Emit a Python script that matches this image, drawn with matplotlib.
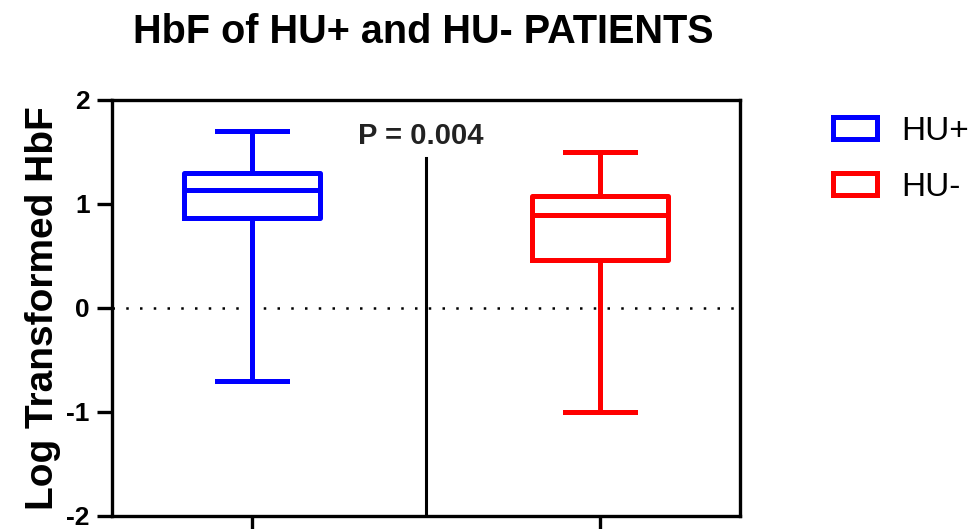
import matplotlib
matplotlib.use("Agg")
import matplotlib.pyplot as plt
from matplotlib.patches import Patch

plt.rcParams['font.family'] = ['Liberation Sans', 'DejaVu Sans']

groups = ["HU+", "HU-"]
colors = ["#0000ff", "#ff0000"]
whislo = [-0.70, -1.00]
q1 = [0.87, 0.46]
med = [1.13, 0.89]
q3 = [1.30, 1.08]
whishi = [1.70, 1.50]
p_text = "P = 0.004"
title = "HbF of HU+ and HU- PATIENTS"
ylabel = "Log Transformed HbF"
yticks = [-2, -1, 0, 1, 2]

fig = plt.figure(figsize=(9.69, 5.29), dpi=100)
ax = fig.add_axes([0.1156, 0.0246, 0.648, 0.7864])

for i, g in enumerate(groups):
    stats = [dict(label=g, whislo=whislo[i], q1=q1[i], med=med[i], q3=q3[i], whishi=whishi[i], fliers=[])]
    lw = 3.6
    ax.bxp(stats, positions=[i], widths=0.39, showfliers=False, patch_artist=False,
           boxprops=dict(color=colors[i], linewidth=lw),
           medianprops=dict(color=colors[i], linewidth=lw),
           whiskerprops=dict(color=colors[i], linewidth=lw),
           capprops=dict(color=colors[i], linewidth=lw),
           capwidths=0.2)

ax.axhline(0, color="black", linestyle=(0, (1, 4.5)), linewidth=1.8, zorder=0)
ax.plot([0.5, 0.5], [-2, 1.44], color="black", linewidth=2.2, zorder=1)
ax.text(0.485, 1.655, p_text, ha="center", va="center", fontsize=21, fontweight="bold", color="#222222")

ax.set_xlim(-0.402, 1.402)
ax.set_ylim(-2, 2)
ax.set_yticks(yticks)
ax.set_yticklabels([str(t) for t in yticks], fontsize=19, fontweight="bold")
ax.set_xticks([0, 1])
ax.set_xticklabels(["", ""])
ax.tick_params(axis="both", direction="out", width=2.4, length=11, colors="black")
ax.tick_params(axis="y", pad=5)
ax.tick_params(axis="x", length=12)
for s in ax.spines.values():
    s.set_linewidth(2.4)
ax.set_ylabel(ylabel, fontsize=28, fontweight="bold", labelpad=4)

fig.suptitle(title, x=0.437, y=1 - 13 / 529, va="top", fontsize=28.5, fontweight="bold")

handles = [Patch(facecolor="white", edgecolor=c, linewidth=3.6, label=g) for g, c in zip(groups, colors)]
fig.legend(handles=handles, loc="upper left", bbox_to_anchor=(833 / 969, 1 - 116 / 529), frameon=False,
           fontsize=24, handlelength=1.32, handleheight=0.62, labelspacing=0.74, handletextpad=0.72,
           borderpad=0, borderaxespad=0)

fig.savefig("out.png", dpi=100)
